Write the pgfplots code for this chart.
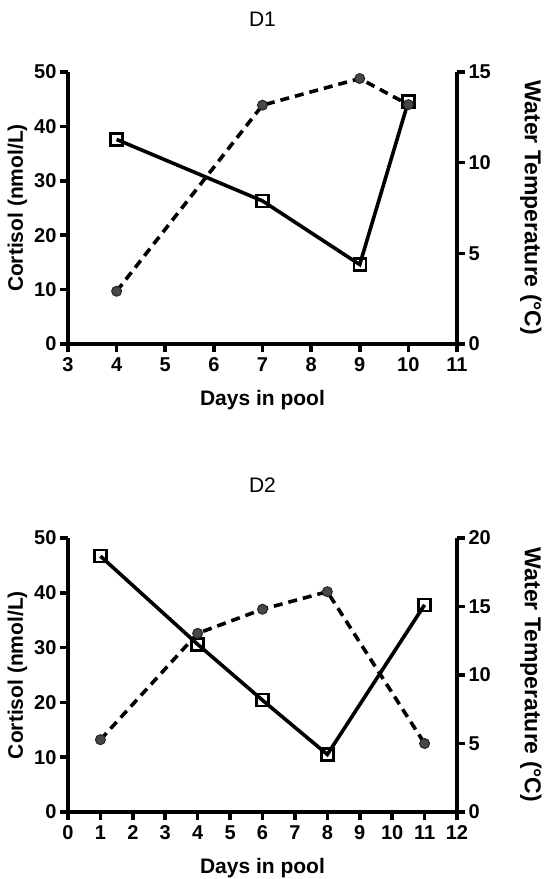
\documentclass[border=0pt]{standalone}
\usepackage{fontspec}
\setmainfont{Liberation Sans}
\usepackage{pgfplots}
\pgfplotsset{compat=1.18}

\pgfplotsset{
  panel/.style={
    scale only axis, width=389pt,
    axis line style={line width=3.6pt, black},
    every tick/.style={line width=3.6pt, black},
    major tick length=8pt, tick align=outside,
    /pgf/number format/assume math mode=true,
    tick label style={font=\bfseries\fontsize{20}{20}\selectfont},
    xticklabel style={yshift=-2pt},
    label style={font=\bfseries\fontsize{21}{21}\selectfont},
    xlabel style={yshift=-12pt},
    title style={font=\fontsize{21}{21}\selectfont, yshift=36pt},
    ymin=0, ymax=50,
  },
  right panel/.style={panel, axis x line=none, axis y line*=right,
    ylabel={Water Temperature (°C)},
    every axis y label/.style={at={(axis description cs:1.19,0.5)},
      rotate=-90, anchor=center},
    label style={font=\bfseries\fontsize{23}{23}\selectfont}},
  cort/.style={black, line width=3.6pt, mark=square, mark size=6pt,
    mark options={solid, line width=2.4pt, fill=none}},
  temp/.style={black, line width=3.6pt, dash pattern=on 9pt off 6pt,
    mark=*, mark size=5pt,
    mark options={solid, line width=1pt, draw=black!85, fill=black!72}},
}

\begin{document}
\begin{tikzpicture}
% D1
\begin{axis}[panel, height=272pt, at={(0,0)},
  xmin=3, xmax=11, xtick={3,...,11}, ytick={0,10,...,50},
  axis x line*=bottom, axis y line*=left,
  xlabel={Days in pool}, ylabel={Cortisol (nmol/L)}, title={D1}]
\addplot[cort] coordinates {(4,37.6)(7,26.3)(9,14.6)(10,44.6)};
\end{axis}
\begin{axis}[right panel, height=272pt, at={(0,0)},
  xmin=3, xmax=11, ymax=15, ytick={0,5,10,15}]
\addplot[temp] coordinates {(4,2.91)(7,13.17)(9,14.64)(10,13.2)};
\end{axis}
% D2
\begin{axis}[panel, height=274pt, at={(0,-468pt)},
  xmin=0, xmax=12, xtick={0,...,12}, ytick={0,10,...,50},
  axis x line*=bottom, axis y line*=left,
  xlabel={Days in pool}, ylabel={Cortisol (nmol/L)}, title={D2}]
\addplot[cort] coordinates {(1,46.7)(4,30.6)(6,20.4)(8,10.5)(11,37.8)};
\end{axis}
\begin{axis}[right panel, height=274pt, at={(0,-468pt)},
  xmin=0, xmax=12, ymax=20, ytick={0,5,10,15,20}]
\addplot[temp] coordinates {(1,5.28)(4,13.04)(6,14.8)(8,16.08)(11,5.0)};
\end{axis}
\pgfresetboundingbox
\useasboundingbox (-68pt,-535pt) rectangle (483pt,344pt);
\end{tikzpicture}
\end{document}
